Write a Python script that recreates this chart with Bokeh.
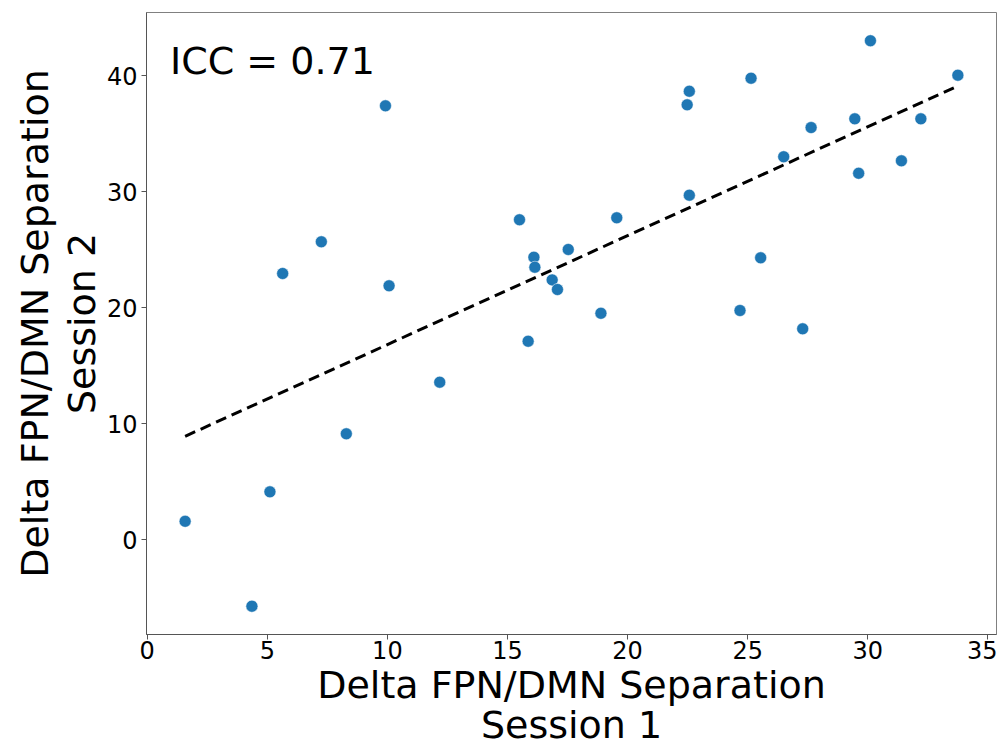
import numpy as np
from bokeh.plotting import figure
from bokeh.models import Title, Label, Range1d, FixedTicker
from bokeh.embed import file_html
from bokeh.resources import INLINE

session1 = [9.92, 15.5, 7.25, 5.64, 10.07, 16.1, 16.14, 16.86, 17.08, 17.53,
            30.11, 25.14, 33.75, 22.57, 22.48, 29.46, 32.21, 27.64, 26.5, 31.4,
            29.62, 22.57, 19.55, 25.54, 24.68, 18.89, 27.29, 15.86, 12.18, 8.29,
            5.11, 1.58, 4.36]
session2 = [37.41, 27.59, 25.69, 22.96, 21.9, 24.36, 23.5, 22.41, 21.58, 25.03,
            43.02, 39.79, 40.05, 38.67, 37.5, 36.29, 36.29, 35.54, 33.02, 32.67,
            31.6, 29.71, 27.76, 24.31, 19.77, 19.53, 18.19, 17.12, 13.59, 9.14,
            4.14, 1.6, -5.72]
x_ticks = [0, 5, 10, 15, 20, 25, 30, 35]
y_ticks = [0, 10, 20, 30, 40]
icc_text = "ICC = 0.71"
xlabel = ["Delta FPN/DMN Separation", "Session 1"]
ylabel = ["Delta FPN/DMN Separation", "Session 2"]

FONT = "DejaVu Sans"

x = np.array(session1)
y = np.array(session2)
slope, intercept = np.polyfit(x, y, 1)
fx = np.array([x.min(), x.max()])
fy = slope * fx + intercept

xpad = 0.05 * (x.max() - x.min())
ypad = 0.05 * (y.max() - y.min())

p = figure(output_backend="svg", toolbar_location=None,
           frame_width=850, frame_height=622,
           x_range=Range1d(x.min() - xpad, x.max() + xpad),
           y_range=Range1d(y.min() - ypad, y.max() + ypad),
           min_border_left=146, min_border_top=12, min_border_right=1,
           min_border_bottom=113)

p.grid.visible = False
p.outline_line_color = "#808080"
p.outline_line_width = 1

for ax in (p.xaxis[0], p.yaxis[0]):
    ax.axis_line_color = "#555555"
    ax.major_tick_line_color = "#555555"
    ax.major_tick_out = 5
    ax.major_tick_in = 0
    ax.minor_tick_line_color = None
    ax.major_label_text_font = FONT
    ax.major_label_text_font_size = "24px"
    ax.major_label_text_color = "black"

p.xaxis[0].ticker = FixedTicker(ticks=x_ticks)
p.yaxis[0].ticker = FixedTicker(ticks=y_ticks)
p.xaxis[0].major_label_standoff = 1
p.yaxis[0].major_label_standoff = 4

p.line(fx, fy, line_color="black", line_width=3, line_dash="11 6")
p.scatter(x, y, size=12, fill_color="#1f77b4", line_color="white", line_width=0.5)

p.add_layout(Label(x=0.95, y=41.3, text=icc_text, text_font=FONT, text_font_size="38px",
                   text_baseline="alphabetic", text_color="black"))

def title(t, standoff=0):
    return Title(text=t, align="center", text_font=FONT, text_font_size="38px",
                 text_font_style="normal", text_color="black", standoff=standoff)

p.add_layout(title(xlabel[0], standoff=-2), "below")
p.add_layout(title(xlabel[1], standoff=-9), "below")
p.add_layout(title(ylabel[1]), "left")
p.add_layout(title(ylabel[0], standoff=2), "left")

open("out.html", "w").write(file_html(p, INLINE))
